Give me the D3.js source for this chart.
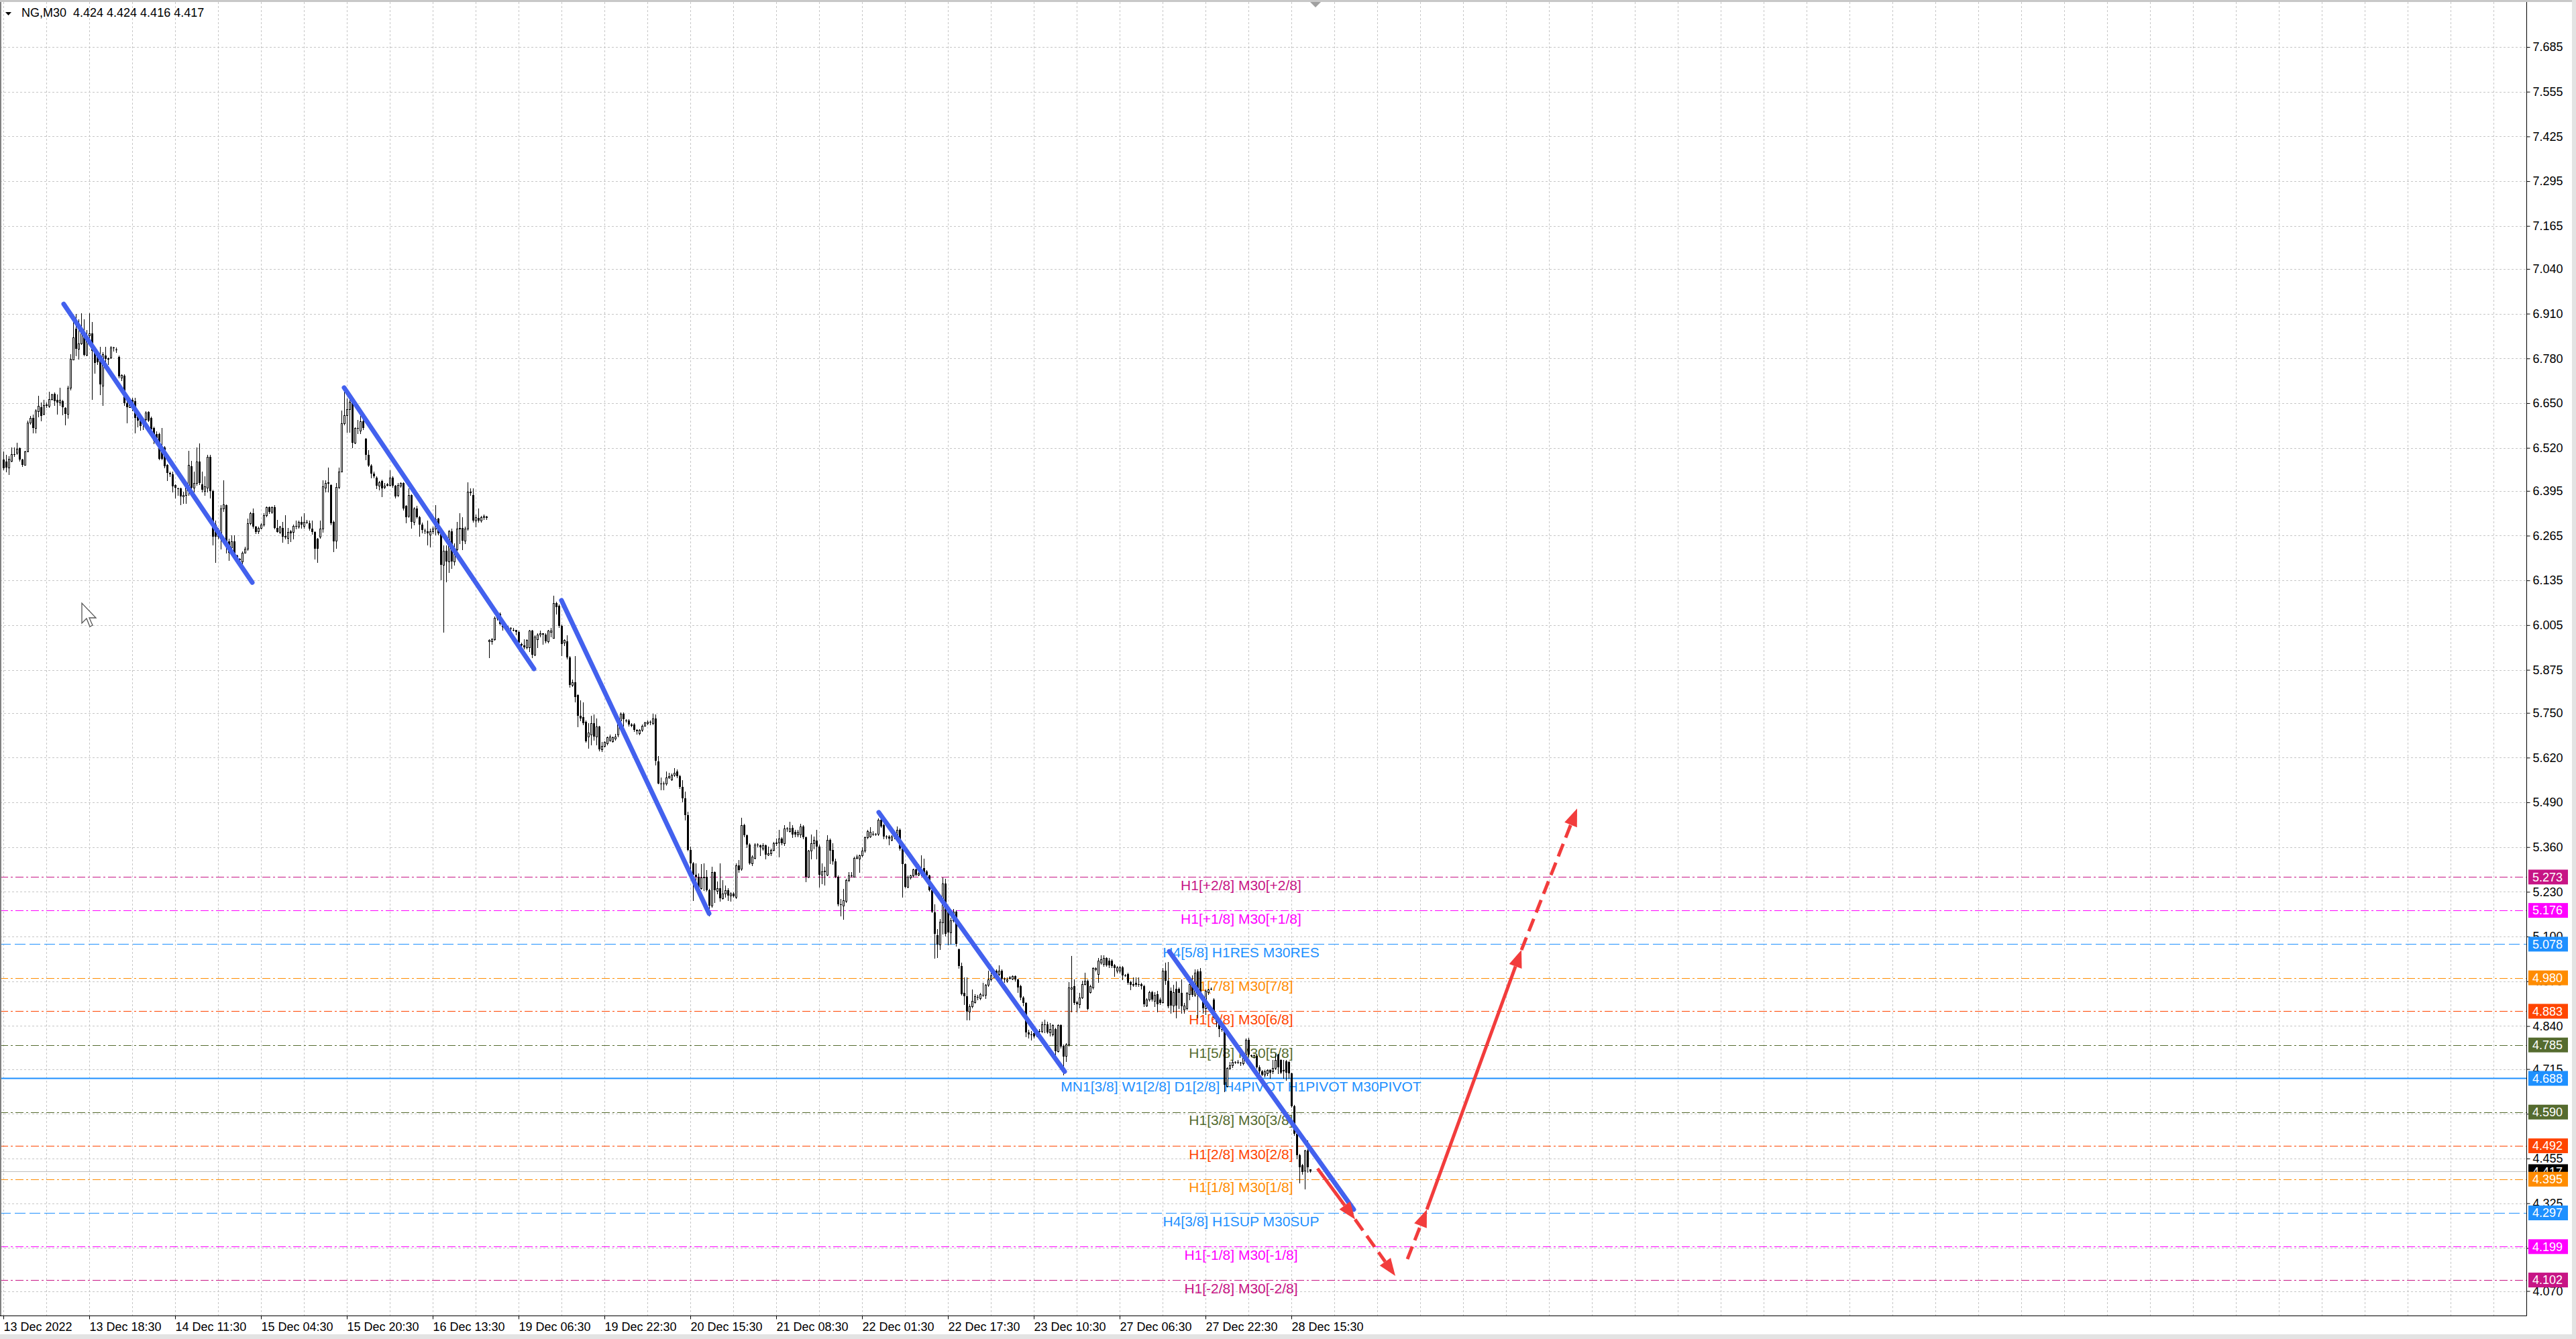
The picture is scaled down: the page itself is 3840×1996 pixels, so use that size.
<!DOCTYPE html>
<html><head><meta charset="utf-8">
<script src="https://cdn.jsdelivr.net/npm/d3@7"></script>
<style>
html,body{margin:0;padding:0;background:#fff;overflow:hidden}
svg{display:block}
text{font-family:"Liberation Sans",Arial,sans-serif}
</style></head>
<body><svg id="c" width="3840" height="1996"></svg>
<script>
// ---------------- DATA ----------------
const symbolName = "NG,M30";
const quote = ["4.424","4.424","4.416","4.417"];

// OHLC per 30-minute bar, bar 0 = 13 Dec 2022 00:00
const candles = [
[6.486,6.509,6.457,6.460],[6.480,6.499,6.451,6.463],[6.463,6.496,6.444,6.489],[6.483,6.522,6.480,6.502],[6.502,6.522,6.496,6.500],[6.506,6.535,6.502,6.517],[6.519,6.522,6.483,6.486],[6.486,6.489,6.467,6.470],
[6.470,6.512,6.470,6.509],[6.509,6.600,6.509,6.594],[6.594,6.613,6.590,6.607],[6.607,6.616,6.564,6.577],[6.577,6.632,6.564,6.629],[6.626,6.671,6.610,6.642],[6.639,6.652,6.600,6.613],[6.619,6.659,6.616,6.645],
[6.645,6.652,6.639,6.646],[6.642,6.684,6.639,6.662],[6.662,6.678,6.659,6.675],[6.678,6.681,6.645,6.655],[6.659,6.675,6.619,6.652],[6.652,6.694,6.645,6.659],[6.655,6.659,6.616,6.639],[6.636,6.639,6.587,6.619],
[6.619,6.701,6.607,6.694],[6.694,6.792,6.688,6.779],[6.776,6.899,6.776,6.841],[6.867,6.909,6.789,6.808],[6.808,6.893,6.779,6.824],[6.824,6.912,6.821,6.853],[6.853,6.893,6.789,6.790],[6.790,6.863,6.789,6.847],
[6.847,6.912,6.834,6.853],[6.853,6.886,6.662,6.801],[6.801,6.814,6.737,6.766],[6.789,6.795,6.763,6.769],[6.782,6.814,6.675,6.704],[6.701,6.798,6.645,6.792],[6.789,6.813,6.756,6.779],[6.779,6.782,6.763,6.780],
[6.782,6.815,6.780,6.811],[6.811,6.814,6.801,6.809],[6.806,6.811,6.798,6.805],[6.785,6.789,6.724,6.727],[6.724,6.733,6.717,6.731],[6.730,6.733,6.645,6.649],[6.649,6.665,6.594,6.639],[6.639,6.665,6.639,6.659],
[6.659,6.665,6.629,6.640],[6.655,6.665,6.564,6.608],[6.610,6.619,6.581,6.600],[6.600,6.610,6.571,6.584],[6.600,6.607,6.574,6.587],[6.603,6.626,6.600,6.623],[6.625,6.626,6.597,6.600],[6.608,6.610,6.571,6.574],
[6.577,6.581,6.532,6.541],[6.561,6.568,6.541,6.548],[6.560,6.564,6.486,6.489],[6.522,6.577,6.486,6.489],[6.522,6.525,6.463,6.467],[6.470,6.473,6.425,6.447],[6.447,6.451,6.437,6.444],[6.444,6.451,6.392,6.408],
[6.412,6.415,6.376,6.404],[6.402,6.405,6.382,6.400],[6.402,6.405,6.356,6.379],[6.379,6.392,6.360,6.382],[6.382,6.408,6.360,6.405],[6.405,6.512,6.382,6.470],[6.467,6.483,6.399,6.405],[6.405,6.451,6.392,6.418],
[6.418,6.522,6.412,6.480],[6.480,6.532,6.415,6.418],[6.415,6.451,6.392,6.399],[6.395,6.437,6.382,6.408],[6.405,6.499,6.392,6.493],[6.493,6.499,6.376,6.395],[6.395,6.399,6.239,6.262],[6.298,6.308,6.187,6.262],
[6.275,6.288,6.256,6.262],[6.272,6.353,6.226,6.343],[6.343,6.425,6.337,6.356],[6.353,6.356,6.216,6.249],[6.249,6.256,6.194,6.216],[6.230,6.265,6.226,6.249],[6.249,6.265,6.200,6.207],[6.207,6.210,6.194,6.200],
[6.197,6.200,6.184,6.194],[6.190,6.220,6.184,6.216],[6.216,6.233,6.216,6.226],[6.226,6.314,6.223,6.301],[6.301,6.334,6.298,6.330],[6.330,6.343,6.288,6.291],[6.291,6.294,6.272,6.275],[6.278,6.291,6.272,6.288],
[6.288,6.301,6.285,6.298],[6.298,6.330,6.294,6.324],[6.324,6.350,6.321,6.347],[6.347,6.350,6.330,6.334],[6.334,6.350,6.330,6.347],[6.347,6.353,6.285,6.288],[6.288,6.311,6.275,6.275],[6.275,6.294,6.272,6.291],
[6.288,6.304,6.246,6.262],[6.262,6.324,6.256,6.263],[6.259,6.288,6.242,6.275],[6.278,6.281,6.249,6.272],[6.275,6.298,6.256,6.294],[6.294,6.308,6.285,6.291],[6.291,6.308,6.288,6.304],[6.304,6.321,6.288,6.298],
[6.294,6.330,6.288,6.304],[6.304,6.311,6.301,6.305],[6.301,6.308,6.281,6.285],[6.285,6.308,6.269,6.275],[6.275,6.278,6.197,6.226],[6.256,6.259,6.187,6.226],[6.262,6.308,6.259,6.285],[6.285,6.425,6.275,6.408],
[6.405,6.425,6.392,6.418],[6.418,6.463,6.392,6.419],[6.412,6.415,6.298,6.301],[6.304,6.308,6.220,6.249],[6.250,6.417,6.229,6.406],[6.406,6.462,6.403,6.452],[6.452,6.629,6.452,6.591],[6.591,6.688,6.587,6.615],
[6.615,6.664,6.566,6.633],[6.633,6.674,6.566,6.653],[6.653,6.667,6.521,6.535],[6.535,6.580,6.532,6.577],[6.577,6.601,6.563,6.575],[6.570,6.619,6.563,6.598],[6.598,6.612,6.573,6.577],[6.546,6.549,6.486,6.500],
[6.500,6.514,6.466,6.469],[6.469,6.472,6.434,6.445],[6.445,6.452,6.434,6.438],[6.434,6.438,6.403,6.410],[6.410,6.424,6.399,6.420],[6.424,6.427,6.379,6.403],[6.406,6.417,6.403,6.411],[6.413,6.417,6.410,6.414],
[6.413,6.455,6.410,6.434],[6.434,6.438,6.406,6.410],[6.410,6.413,6.375,6.379],[6.382,6.417,6.379,6.413],[6.410,6.420,6.406,6.417],[6.417,6.420,6.340,6.344],[6.351,6.354,6.302,6.319],[6.323,6.403,6.319,6.382],
[6.382,6.385,6.288,6.305],[6.305,6.347,6.298,6.344],[6.344,6.351,6.316,6.319],[6.319,6.323,6.264,6.298],[6.298,6.302,6.274,6.281],[6.280,6.285,6.271,6.279],[6.278,6.309,6.239,6.271],[6.267,6.285,6.232,6.278],
[6.278,6.291,6.271,6.285],[6.285,6.354,6.267,6.312],[6.314,6.316,6.267,6.271],[6.271,6.274,6.138,6.180],[6.180,6.236,5.985,6.222],[6.222,6.236,6.131,6.190],[6.190,6.281,6.159,6.278],[6.278,6.285,6.170,6.190],
[6.190,6.243,6.180,6.225],[6.225,6.305,6.218,6.285],[6.285,6.330,6.243,6.288],[6.288,6.319,6.225,6.250],[6.250,6.291,6.243,6.285],[6.285,6.420,6.281,6.392],[6.392,6.403,6.382,6.389],[6.382,6.403,6.305,6.309],
[6.309,6.326,6.291,6.319],[6.316,6.344,6.305,6.309],[6.309,6.323,6.305,6.319],[6.319,6.326,6.312,6.323],[6.321,6.323,6.312,6.316],[5.957,5.964,5.912,5.961],[5.957,5.968,5.950,5.964],[5.964,6.030,5.961,6.027],
[6.027,6.041,6.020,6.030],[6.037,6.041,6.006,6.009],[6.009,6.016,5.992,5.999],[6.003,6.006,5.996,5.999],[5.999,6.003,5.992,5.998],[5.996,5.999,5.989,5.995],[5.992,5.996,5.989,5.991],[5.991,5.992,5.978,5.985],
[5.985,5.989,5.950,5.954],[5.950,5.954,5.943,5.947],[5.947,5.964,5.936,5.940],[5.940,5.964,5.936,5.961],[5.940,5.992,5.929,5.989],[5.989,5.992,5.912,5.919],[5.919,5.975,5.916,5.971],[5.964,5.981,5.940,5.978],
[5.978,5.989,5.971,5.981],[5.981,5.981,5.950,5.978],[5.978,5.981,5.954,5.957],[5.957,5.992,5.954,5.989],[5.985,5.996,5.971,5.989],[5.968,6.090,5.968,6.069],[6.069,6.072,6.037,6.058],[6.062,6.065,5.999,6.003],
[6.003,6.006,5.916,5.950],[5.954,5.964,5.947,5.961],[5.957,5.975,5.908,5.912],[5.912,5.915,5.825,5.832],[5.832,5.846,5.828,5.839],[5.839,5.915,5.783,5.797],[5.801,5.804,5.710,5.741],[5.741,5.787,5.727,5.734],
[5.738,5.780,5.717,5.720],[5.724,5.727,5.665,5.668],[5.682,5.720,5.647,5.693],[5.686,5.741,5.658,5.720],[5.720,5.745,5.672,5.682],[5.682,5.734,5.658,5.710],[5.710,5.713,5.640,5.644],[5.644,5.665,5.638,5.654],
[5.654,5.668,5.651,5.665],[5.661,5.682,5.658,5.679],[5.672,5.686,5.668,5.682],[5.668,5.682,5.665,5.679],[5.675,5.689,5.672,5.682],[5.686,5.734,5.682,5.727],[5.727,5.752,5.724,5.748],[5.748,5.752,5.713,5.731],
[5.728,5.731,5.724,5.727],[5.727,5.731,5.713,5.717],[5.717,5.720,5.710,5.712],[5.717,5.720,5.696,5.700],[5.701,5.703,5.689,5.696],[5.691,5.703,5.686,5.700],[5.700,5.717,5.696,5.713],[5.713,5.724,5.712,5.722],
[5.721,5.727,5.717,5.724],[5.724,5.727,5.717,5.723],[5.721,5.748,5.717,5.733],[5.733,5.745,5.600,5.610],[5.609,5.625,5.544,5.544],[5.544,5.563,5.528,5.545],[5.545,5.550,5.528,5.544],[5.544,5.580,5.541,5.563],
[5.563,5.576,5.560,5.567],[5.557,5.573,5.554,5.570],[5.570,5.589,5.567,5.576],[5.580,5.586,5.563,5.567],[5.567,5.570,5.531,5.534],[5.534,5.554,5.492,5.502],[5.502,5.521,5.440,5.453],[5.453,5.462,5.349,5.352],
[5.352,5.362,5.297,5.313],[5.313,5.316,5.206,5.280],[5.280,5.313,5.264,5.274],[5.274,5.284,5.235,5.241],[5.241,5.310,5.238,5.271],[5.271,5.313,5.235,5.274],[5.274,5.293,5.232,5.235],[5.235,5.238,5.160,5.189],
[5.189,5.303,5.186,5.287],[5.287,5.290,5.199,5.235],[5.232,5.261,5.225,5.241],[5.241,5.313,5.203,5.212],[5.212,5.264,5.209,5.225],[5.225,5.248,5.215,5.235],[5.235,5.241,5.206,5.219],[5.219,5.228,5.203,5.225],
[5.225,5.228,5.215,5.217],[5.215,5.313,5.212,5.307],[5.307,5.323,5.287,5.293],[5.297,5.446,5.293,5.424],[5.424,5.427,5.391,5.394],[5.394,5.397,5.359,5.368],[5.368,5.372,5.310,5.313],[5.313,5.336,5.307,5.333],
[5.329,5.372,5.326,5.368],[5.368,5.372,5.362,5.367],[5.365,5.368,5.336,5.359],[5.355,5.372,5.352,5.365],[5.365,5.368,5.326,5.339],[5.339,5.362,5.336,5.342],[5.342,5.355,5.336,5.352],[5.352,5.375,5.349,5.372],
[5.372,5.384,5.365,5.373],[5.373,5.410,5.333,5.384],[5.384,5.388,5.368,5.372],[5.372,5.424,5.365,5.414],[5.414,5.417,5.407,5.412],[5.407,5.433,5.404,5.414],[5.416,5.424,5.388,5.396],[5.404,5.410,5.391,5.396],
[5.396,5.410,5.391,5.404],[5.396,5.427,5.388,5.420],[5.420,5.424,5.384,5.388],[5.388,5.391,5.261,5.274],[5.274,5.352,5.271,5.349],[5.349,5.397,5.326,5.372],[5.372,5.391,5.355,5.381],[5.378,5.410,5.326,5.362],
[5.362,5.368,5.245,5.280],[5.280,5.313,5.255,5.290],[5.290,5.303,5.251,5.291],[5.280,5.394,5.277,5.381],[5.381,5.384,5.313,5.349],[5.352,5.372,5.310,5.319],[5.319,5.326,5.271,5.274],[5.274,5.277,5.189,5.193],
[5.193,5.209,5.160,5.192],[5.189,5.238,5.151,5.206],[5.203,5.268,5.199,5.264],[5.264,5.287,5.261,5.277],[5.277,5.287,5.274,5.278],[5.274,5.333,5.274,5.329],[5.329,5.339,5.326,5.332],[5.326,5.339,5.287,5.336],
[5.336,5.359,5.333,5.349],[5.349,5.391,5.346,5.388],[5.388,5.410,5.384,5.407],[5.391,5.417,5.388,5.405],[5.398,5.407,5.394,5.397],[5.398,5.401,5.394,5.399],[5.398,5.443,5.394,5.440],[5.440,5.450,5.417,5.420],
[5.423,5.427,5.385,5.391],[5.391,5.394,5.385,5.390],[5.391,5.394,5.368,5.385],[5.381,5.394,5.378,5.391],[5.390,5.391,5.385,5.388],[5.385,5.420,5.381,5.411],[5.411,5.414,5.352,5.355],[5.355,5.358,5.216,5.310],
[5.310,5.313,5.242,5.245],[5.245,5.277,5.242,5.274],[5.271,5.280,5.268,5.277],[5.277,5.297,5.274,5.295],[5.295,5.297,5.277,5.279],[5.279,5.310,5.277,5.284],[5.284,5.336,5.277,5.285],[5.300,5.326,5.277,5.280],
[5.290,5.293,5.268,5.277],[5.277,5.280,5.232,5.235],[5.235,5.238,5.170,5.173],[5.170,5.193,5.037,5.108],[5.105,5.121,5.040,5.076],[5.076,5.151,5.063,5.144],[5.141,5.271,5.108,5.255],[5.255,5.268,5.102,5.108],
[5.173,5.176,5.076,5.111],[5.111,5.154,5.079,5.147],[5.147,5.180,5.144,5.173],[5.173,5.176,5.073,5.079],[5.063,5.066,5.008,5.014],[5.014,5.024,4.930,4.933],[4.936,4.982,4.904,4.926],[4.926,4.982,4.858,4.881],
[4.881,4.904,4.858,4.897],[4.897,4.946,4.894,4.913],[4.910,4.933,4.907,4.926],[4.924,4.930,4.917,4.923],[4.920,4.936,4.917,4.933],[4.931,4.965,4.926,4.930],[4.930,4.962,4.920,4.959],[4.959,5.001,4.956,4.975],
[4.975,4.995,4.972,4.988],[4.990,4.995,4.982,4.991],[5.001,5.004,4.985,4.991],[4.991,5.017,4.988,5.001],[5.001,5.004,4.972,4.978],[4.978,4.982,4.968,4.977],[4.972,4.982,4.968,4.976],[4.980,4.985,4.978,4.981],
[4.978,4.988,4.975,4.985],[4.985,4.988,4.972,4.975],[4.975,4.978,4.939,4.952],[4.956,4.959,4.917,4.923],[4.923,4.926,4.900,4.907],[4.907,4.910,4.809,4.822],[4.822,4.829,4.806,4.816],[4.816,4.826,4.800,4.815],
[4.819,4.835,4.806,4.809],[4.822,4.832,4.809,4.812],[4.826,4.832,4.819,4.825],[4.826,4.852,4.822,4.845],[4.845,4.858,4.822,4.842],[4.845,4.852,4.819,4.822],[4.822,4.848,4.812,4.832],[4.816,4.845,4.812,4.842],
[4.832,4.835,4.754,4.767],[4.767,4.845,4.764,4.842],[4.842,4.845,4.777,4.780],[4.783,4.786,4.699,4.751],[4.754,4.790,4.738,4.786],[4.786,4.968,4.783,4.952],[4.949,5.043,4.881,4.952],[4.956,4.975,4.904,4.907],
[4.910,4.913,4.881,4.904],[4.904,4.936,4.894,4.923],[4.923,4.972,4.920,4.962],[4.962,4.995,4.959,4.972],[4.972,4.975,4.887,4.890],[4.939,4.959,4.936,4.956],[4.952,5.011,4.949,5.008],[5.004,5.011,5.001,5.008],
[4.991,5.037,4.968,5.030],[5.024,5.046,5.021,5.033],[5.021,5.046,5.014,5.037],[5.037,5.040,5.014,5.017],[5.030,5.037,5.011,5.017],[5.030,5.033,5.011,5.014],[5.017,5.021,4.985,5.008],[5.001,5.014,4.995,5.011],
[5.001,5.014,4.995,5.011],[5.011,5.014,4.975,4.988],[4.988,4.991,4.985,4.987],[4.991,4.995,4.962,4.965],[4.968,4.972,4.946,4.959],[4.960,4.982,4.956,4.961],[4.965,4.982,4.956,4.959],[4.961,4.982,4.956,4.962],
[4.962,4.965,4.949,4.956],[4.956,4.959,4.897,4.904],[4.900,4.920,4.897,4.917],[4.917,4.942,4.913,4.939],[4.939,4.942,4.913,4.917],[4.913,4.939,4.897,4.930],[4.933,4.943,4.881,4.903],[4.917,4.923,4.903,4.907],
[4.910,5.008,4.907,5.001],[5.001,5.024,4.962,4.972],[4.972,5.027,4.894,4.897],[4.943,4.952,4.878,4.900],[4.900,4.959,4.881,4.939],[4.949,4.969,4.865,4.900],[4.949,4.952,4.891,4.936],[4.936,4.975,4.878,4.897],
[4.887,4.907,4.878,4.900],[4.891,4.939,4.887,4.936],[4.933,4.969,4.917,4.962],[4.962,4.988,4.926,4.930],[4.930,5.004,4.926,4.995],[4.998,5.004,4.865,4.930],[4.998,5.008,4.923,4.926],[4.926,4.930,4.878,4.891],
[4.891,4.946,4.874,4.943],[4.939,4.949,4.933,4.946],[4.948,4.952,4.946,4.949],[4.917,4.920,4.865,4.865],[4.865,4.871,4.839,4.852],[4.855,4.858,4.809,4.832],[4.832,4.839,4.826,4.829],[4.826,4.829,4.650,4.669],
[4.666,4.721,4.663,4.718],[4.718,4.735,4.715,4.725],[4.725,4.741,4.721,4.735],[4.735,4.738,4.731,4.736],[4.736,4.741,4.731,4.735],[4.733,4.735,4.725,4.732],[4.731,4.760,4.728,4.757],[4.757,4.803,4.754,4.800],
[4.800,4.806,4.754,4.757],[4.756,4.757,4.751,4.754],[4.755,4.757,4.748,4.756],[4.754,4.757,4.718,4.721],[4.721,4.725,4.699,4.708],[4.708,4.712,4.696,4.699],[4.699,4.712,4.692,4.708],[4.702,4.715,4.696,4.712],
[4.712,4.715,4.689,4.705],[4.708,4.741,4.702,4.718],[4.718,4.760,4.715,4.741],[4.757,4.760,4.702,4.721],[4.741,4.744,4.702,4.705],[4.710,4.741,4.689,4.712],[4.738,4.741,4.683,4.705],[4.735,4.738,4.689,4.702],
[4.702,4.705,4.605,4.608],[4.608,4.611,4.523,4.527],[4.527,4.530,4.455,4.465],[4.465,4.468,4.384,4.429],[4.436,4.439,4.410,4.416],[4.419,4.481,4.367,4.478],[4.478,4.507,4.416,4.429],[4.424,4.424,4.416,4.417]
];

const yTickLabels = ["7.685","7.555","7.425","7.295","7.165","7.040","6.910","6.780","6.650","6.520","6.395","6.265","6.135","6.005","5.875","5.750","5.620","5.490","5.360","5.230","5.100","4.970","4.840","4.715","4.585","4.455","4.325","4.195","4.070"];

const xTickLabels = ["13 Dec 2022","13 Dec 18:30","14 Dec 11:30","15 Dec 04:30","15 Dec 20:30","16 Dec 13:30","19 Dec 06:30","19 Dec 22:30","20 Dec 15:30","21 Dec 08:30","22 Dec 01:30","22 Dec 17:30","23 Dec 10:30","27 Dec 06:30","27 Dec 22:30","28 Dec 15:30"];
const xTickBars = [0,32,64,96,128,160,192,224,256,288,320,352,384,416,448,480];

// Murrey / pivot levels
const levelValues = [5.273,5.176,5.078,4.980,4.883,4.785,4.688,4.590,4.492,4.395,4.297,4.199,4.102];
const levelLabels = ["H1[+2/8] M30[+2/8]","H1[+1/8] M30[+1/8]","H4[5/8] H1RES M30RES","H1[7/8] M30[7/8]","H1[6/8] M30[6/8]","H1[5/8] M30[5/8]","MN1[3/8] W1[2/8] D1[2/8] H4PIVOT H1PIVOT M30PIVOT","H1[3/8] M30[3/8]","H1[2/8] M30[2/8]","H1[1/8] M30[1/8]","H4[3/8] H1SUP M30SUP","H1[-1/8] M30[-1/8]","H1[-2/8] M30[-2/8]"];
const levelTags = ["5.273","5.176","5.078","4.980","4.883","4.785","4.688","4.590","4.492","4.395","4.297","4.199","4.102"];
const currentPrice = 4.417;

// hand-drawn trend lines: [bar, price] endpoints
const trendLines = [
  [[22.5,6.938],[92.75,6.129]],
  [[127,6.695],[197.75,5.878]],
  [[208,6.077],[263,5.167]],
  [[326.25,5.461],[395.5,4.708]],
  [[434.5,5.057],[503.25,4.307]]
];
// forecast arrows: [bar, price] endpoints, dashed flag
const forecastArrows = [
  {from:[489.75,4.426], to:[503.75,4.278], dashed:false},
  {from:[503.75,4.278], to:[518.75,4.114], dashed:true},
  {from:[523.25,4.163], to:[530.5,4.307], dashed:true},
  {from:[530.5,4.307], to:[565.75,5.061], dashed:false},
  {from:[565.75,5.061], to:[586.5,5.472], dashed:true}
];

// ---------------- STYLE ----------------
const W = 3840, H = 1996;
const plot = {left:0, right:3766, top:3, bottom:1961};
const levelColors = ["#C71585","#FF00FF","#1E90FF","#FF8C00","#FF4500","#556B2F","#1E90FF","#556B2F","#FF4500","#FF8C00","#1E90FF","#FF00FF","#C71585"];
const levelDash = ["12,4,3,4","12,4,3,4","16,6",null,null,null,"solid",null,null,null,"16,6","12,4,3,4","12,4,3,4"].map(d=>d===null?"12,4,3,4":d);
const gridColor = "#c6c6c6";
const trendColor = "#4361ee";
const arrowColor = "#f23c3c";

// ---------------- SCALES ----------------
const x = d3.scaleLinear().domain([0, 1]).range([5, 9]);
const y = d3.scaleLinear().domain([7.685, 4.070]).range([70, 1924.5]);

const svg = d3.select("#c");
svg.append("rect").attr("width",W).attr("height",H).attr("fill","#fff");

const defs = svg.append("defs");
defs.append("clipPath").attr("id","plotClip").append("rect")
  .attr("x",plot.left).attr("y",plot.top).attr("width",plot.right-plot.left).attr("height",plot.bottom-plot.top);

const g = svg.append("g").attr("clip-path","url(#plotClip)");

// grid
const yTickValues = yTickLabels.map(Number);
g.append("g").selectAll("line").data(yTickValues).join("line")
  .attr("x1",plot.left).attr("x2",plot.right)
  .attr("y1",d=>Math.round(y(d))+0.5).attr("y2",d=>Math.round(y(d))+0.5)
  .attr("stroke",gridColor).attr("stroke-width",1).attr("stroke-dasharray","3,3");
const gridBars = d3.range(0, 941, 16);
g.append("g").selectAll("line").data(gridBars).join("line")
  .attr("x1",d=>x(d)+0.5).attr("x2",d=>x(d)+0.5)
  .attr("y1",plot.top).attr("y2",plot.bottom)
  .attr("stroke",gridColor).attr("stroke-width",1).attr("stroke-dasharray","3,3");

// level lines
g.append("g").selectAll("line").data(levelValues).join("line")
  .attr("x1",plot.left).attr("x2",plot.right)
  .attr("y1",d=>Math.round(y(d))+0.5).attr("y2",d=>Math.round(y(d))+0.5)
  .attr("stroke",(d,i)=>levelColors[i])
  .attr("stroke-width",(d,i)=>levelDash[i]==="solid"?2:1.2)
  .attr("stroke-dasharray",(d,i)=>levelDash[i]==="solid"?null:levelDash[i]);

// current price line
g.append("line").attr("x1",plot.left).attr("x2",plot.right)
  .attr("y1",Math.round(y(currentPrice))+0.5).attr("y2",Math.round(y(currentPrice))+0.5)
  .attr("stroke","#c0c0c0").attr("stroke-width",1);

// level labels
g.append("g").selectAll("text").data(levelValues).join("text")
  .attr("x",1850).attr("y",d=>y(d)+19.5)
  .attr("text-anchor","middle").attr("font-size",21)
  .attr("fill",(d,i)=>levelColors[i])
  .text((d,i)=>levelLabels[i]);

// candles
const cg = g.append("g").attr("shape-rendering","crispEdges");
const cd = candles.map((c,i)=>({i,o:c[0],h:c[1],l:c[2],c:c[3]}));
cg.selectAll("line").data(cd).join("line")
  .attr("x1",d=>x(d.i)+0.5).attr("x2",d=>x(d.i)+0.5)
  .attr("y1",d=>y(Math.max(d.h,d.o,d.c))).attr("y2",d=>y(Math.min(d.l,d.o,d.c))+1)
  .attr("stroke","#000").attr("stroke-width",1);
cg.selectAll("rect").data(cd).join("rect")
  .attr("x",d=>d.c>=d.o ? x(d.i)-0.5 : x(d.i)-1)
  .attr("width",d=>d.c>=d.o ? 2 : 3)
  .attr("y",d=>{const t=y(Math.max(d.o,d.c)); return d.c>=d.o? t+0.5 : t;})
  .attr("height",d=>{const hh=Math.abs(y(d.o)-y(d.c)); return d.c>=d.o? Math.max(hh,0.01) : Math.max(hh,1);})
  .attr("fill",d=>d.c>=d.o?"#fff":"#000")
  .attr("stroke",d=>d.c>=d.o?"#000":"none").attr("stroke-width",1);

// trend lines
g.append("g").selectAll("line").data(trendLines).join("line")
  .attr("x1",d=>x(d[0][0])).attr("y1",d=>y(d[0][1]))
  .attr("x2",d=>x(d[1][0])).attr("y2",d=>y(d[1][1]))
  .attr("stroke",trendColor).attr("stroke-width",7).attr("stroke-linecap","round");

// forecast arrows
const ag = g.append("g");
forecastArrows.forEach(a=>{
  const x1=x(a.from[0]), y1=y(a.from[1]), x2=x(a.to[0]), y2=y(a.to[1]);
  const ang=Math.atan2(y2-y1,x2-x1), L=26, Wd=10;
  const bx=x2-L*Math.cos(ang), by=y2-L*Math.sin(ang);
  ag.append("line").attr("x1",x1).attr("y1",y1).attr("x2",bx).attr("y2",by)
    .attr("stroke",arrowColor).attr("stroke-width",5)
    .attr("stroke-dasharray",a.dashed?"20,10":null);
  const px=-Math.sin(ang), py=Math.cos(ang);
  ag.append("path").attr("d",`M${x2},${y2}L${bx+px*Wd},${by+py*Wd}L${bx-px*Wd},${by-py*Wd}Z`)
    .attr("fill",arrowColor);
});

// mouse cursor
svg.append("path")
  .attr("d","M122,899 l0,30 l7,-7 l5,12 l4,-2 l-5,-11 l10,0 Z")
  .attr("fill","#fff").attr("stroke","#555").attr("stroke-width",1.3);

// ---------------- AXES ----------------
const yAxis = d3.axisRight(y).tickValues(yTickValues).tickFormat((d,i)=>yTickLabels[i]).tickSize(5).tickPadding(4);
const ya = svg.append("g").attr("transform",`translate(${plot.right+0.5},0)`).call(yAxis);
ya.select(".domain").attr("d",`M0,${plot.top}V${plot.bottom+0.5}`).attr("stroke","#000");
ya.selectAll(".tick line").attr("stroke","#000");
ya.selectAll(".tick text").attr("font-size",18).attr("font-family","Liberation Sans, Arial, sans-serif").attr("fill","#000");

const xAxis = d3.axisBottom(x).tickValues(xTickBars).tickFormat((d,i)=>xTickLabels[i]).tickSize(5).tickPadding(5);
const xa = svg.append("g").attr("transform",`translate(0,${plot.bottom+0.5})`).call(xAxis);
xa.select(".domain").attr("d",`M0,0H${plot.right+0.5}`).attr("stroke","#000");
xa.selectAll(".tick line").attr("stroke","#000");
xa.selectAll(".tick text").attr("font-size",18).attr("font-family","Liberation Sans, Arial, sans-serif")
  .attr("text-anchor","start").attr("fill","#000");

// right-axis level tags (current price tag first, level tags drawn over it)
const tg = svg.append("g");
const tagData = [{v:currentPrice,label:quote[3],color:"#000"}]
  .concat(levelValues.map((v,i)=>({v,label:levelTags[i],color:levelColors[i]})));
const tags = tg.selectAll("g").data(tagData).join("g");
tags.append("rect")
  .attr("x",3769).attr("width",59).attr("y",d=>y(d.v)-11).attr("height",22).attr("fill",d=>d.color);
tags.append("text")
  .attr("x",3775).attr("y",d=>y(d.v)).attr("dy","0.35em")
  .attr("font-size",18).attr("fill","#fff").text(d=>d.label);

// frame
svg.append("rect").attr("x",0).attr("y",0).attr("width",W).attr("height",3).attr("fill","#c8c8c8");
svg.append("line").attr("x1",1).attr("x2",1).attr("y1",3).attr("y2",plot.bottom).attr("stroke","#808080").attr("stroke-width",2);
svg.append("rect").attr("x",3834).attr("y",0).attr("width",6).attr("height",H).attr("fill","#e3e3e3");
svg.append("rect").attr("x",0).attr("y",1989).attr("width",W).attr("height",7).attr("fill","#e3e3e3");
// chart shift marker
svg.append("path").attr("d",`M${x(488)-4},3 l16,0 l-8,8 Z`).attr("fill","#a0a0a0");

// title
svg.append("path").attr("d","M8,18 l9,0 l-4.5,5 Z").attr("fill","#000");
svg.append("text").attr("x",32).attr("y",25).attr("font-size",18).attr("fill","#000")
  .attr("xml:space","preserve").style("white-space","pre")
  .text(symbolName + "  " + quote.join(" "));
</script>
</body></html>
